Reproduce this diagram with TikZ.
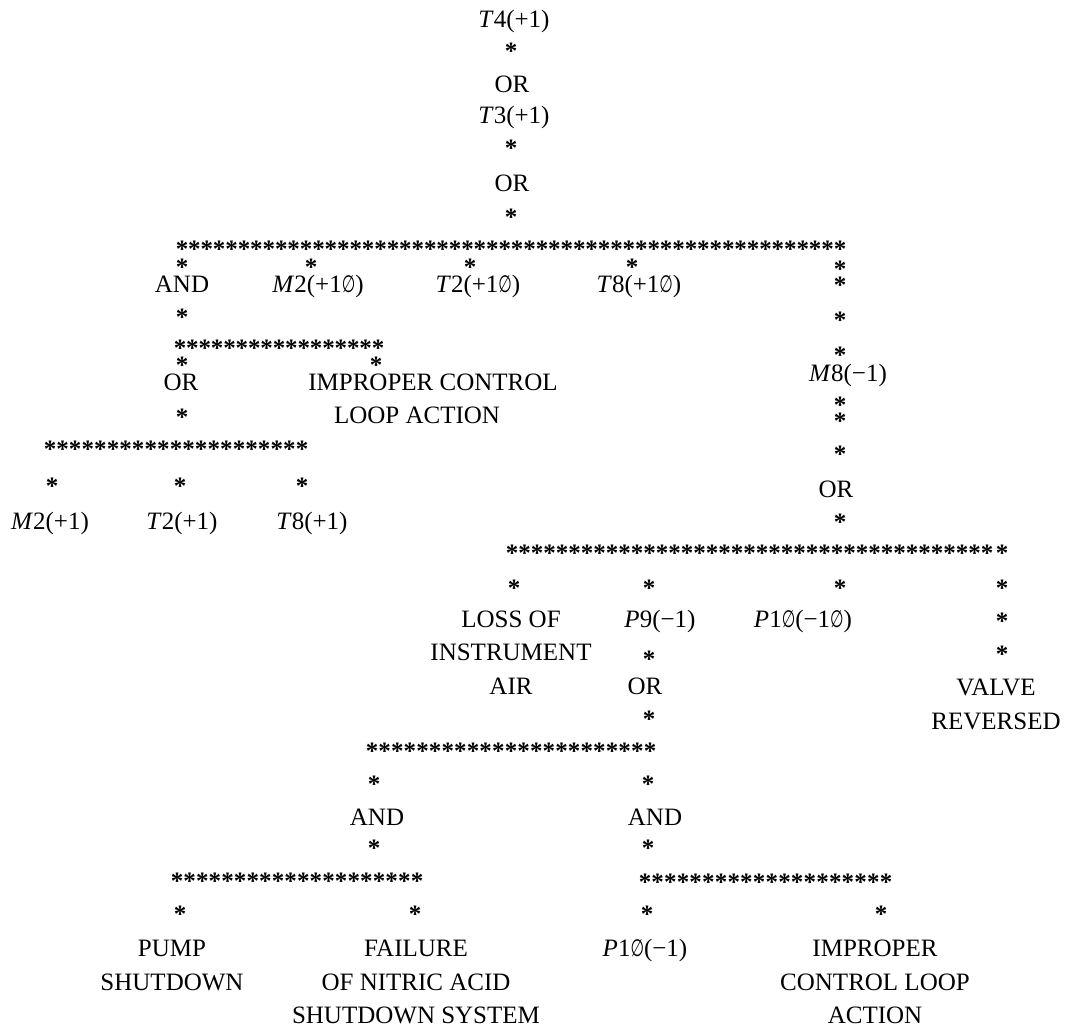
\documentclass[tikz,border=0pt]{standalone}
\usepackage{graphicx}
\usepackage{fontspec}
\setmainfont{Liberation Serif}
\newfontfamily\djv{DejaVu Sans}
\newcommand\slz{\scalebox{0.62}[0.95]{\djv ∅}}
\newcommand\tfs{\fontsize{25}{33.5}\selectfont}
\tikzset{
  lbl/.style={anchor=base, inner sep=0pt, outer sep=0pt, font=\tfs, align=center},
  ast/.style={anchor=base, inner sep=0pt, outer sep=0pt, font=\tfs\bfseries, yshift=-11.75pt},
}
\newcommand\astrow[5]{\pgfmathsetmacro\aststep{(#3-#2)/#4}\foreach \i in {0,...,#4}{\node[ast] (#1-\i) at ({#2+\i*\aststep},#5) {*};}}
\begin{document}
\begin{tikzpicture}[x=1pt,y=-1pt]
\useasboundingbox[fill=white] (0,0) rectangle (1065,1035);
% top column
\node[lbl] (t4) at (514,28) {\textit{T}4(+1)};
\node[ast] (s1) at (511,48) {*};
\node[lbl] (or1) at (512,93) {OR};
\node[lbl] (t3) at (514,124) {\textit{T}3(+1)};
\node[ast] (s2) at (511,145) {*};
\node[lbl] (or2) at (512,192) {OR};
\node[ast] (s3) at (511,214) {*};
% row A
\astrow{rA}{182}{840}{53}{246}
\node[ast] (sa1) at (182,264) {*};
\node[ast] (sa2) at (311,264) {*};
\node[ast] (sa3) at (470,264) {*};
\node[ast] (sa4) at (632,264) {*};
\node[ast] (c1) at (840,266) {*};
\node[ast] (c2) at (840,282) {*};
\node[ast] (c3) at (840,317) {*};
\node[ast] (c4) at (840,352) {*};
\node[lbl] (and1) at (182,292) {AND};
\node[lbl] (m2a) at (318,292) {\textit{M}2(+1\slz)};
\node[lbl] (t2a) at (478,292) {\textit{T}2(+1\slz)};
\node[lbl] (t8a) at (639,292) {\textit{T}8(+1\slz)};
% AND branch
\node[ast] (sb1) at (182,314) {*};
\astrow{rAnd}{180}{378}{16}{345}
\node[ast] (sb2) at (182,362) {*};
\node[ast] (sb3) at (376,362) {*};
\node[lbl] (or3) at (181,390) {OR};
\node[lbl] (imp1) at (433,423.5) {IMPROPER CONTROL\\LOOP ACTION\hspace*{32pt}};
\node[ast] (sb4) at (182,414) {*};
\astrow{rC}{50}{302}{20}{446}
\node[ast] (sc1) at (52,483) {*};
\node[ast] (sc2) at (180,483) {*};
\node[ast] (sc3) at (302,483) {*};
\node[lbl] (m2b) at (50,529) {\textit{M}2(+1)};
\node[lbl] (t2b) at (182,529) {\textit{T}2(+1)};
\node[lbl] (t8b) at (312,529) {\textit{T}8(+1)};
% right column
\node[lbl] (m8) at (848,381) {\textit{M}8(−1)};
\node[ast] (c5) at (840,402) {*};
\node[ast] (c6) at (840,418) {*};
\node[ast] (c7) at (840,451) {*};
\node[lbl] (or4) at (836,497) {OR};
\node[ast] (c8) at (840,519) {*};
\astrow{rB}{512}{987}{38}{550}
\node[ast] (rBx) at (1002,550) {*};
\node[ast] (sd1) at (514,585) {*};
\node[ast] (sd2) at (649,585) {*};
\node[ast] (sd3) at (840,585) {*};
\node[ast] (sd4) at (1002,585) {*};
\node[lbl] (loss) at (511,694) {LOSS OF\\INSTRUMENT\\AIR};
\node[lbl] (p9) at (660,627) {\textit{P}9(−1)};
\node[lbl] (p10a) at (803,627) {\textit{P}1\slz(−1\slz)};
\node[ast] (sd5) at (649,656) {*};
\node[lbl] (or5) at (645,694) {OR};
\node[ast] (sd6) at (649,716) {*};
\node[ast] (sv1) at (1002,618) {*};
\node[ast] (sv2) at (1002,651) {*};
\node[lbl] (valve) at (996,729) {VALVE\\REVERSED};
% lower OR
\astrow{rD}{372}{650}{22}{748}
\node[ast] (se1) at (374,781) {*};
\node[ast] (se2) at (648,781) {*};
\node[lbl] (and2) at (377,825) {AND};
\node[lbl] (and3) at (655,825) {AND};
\node[ast] (se3) at (374,845) {*};
\node[ast] (se4) at (648,845) {*};
\astrow{rE}{177}{417}{19}{878}
\astrow{rF}{645}{886}{19}{879}
\node[ast] (sf1) at (180,911) {*};
\node[ast] (sf2) at (415,911) {*};
\node[ast] (sf3) at (647,911) {*};
\node[ast] (sf4) at (881,911) {*};
\node[lbl] (pump) at (172,990) {PUMP\\SHUTDOWN};
\node[lbl] (fail) at (416,1023.5) {FAILURE\\OF NITRIC ACID\\SHUTDOWN SYSTEM};
\node[lbl] (p10b) at (645,956.5) {\textit{P}1\slz(−1)};
\node[lbl] (imp2) at (875,1023.5) {IMPROPER\\CONTROL LOOP\\ACTION};
\end{tikzpicture}
\end{document}
